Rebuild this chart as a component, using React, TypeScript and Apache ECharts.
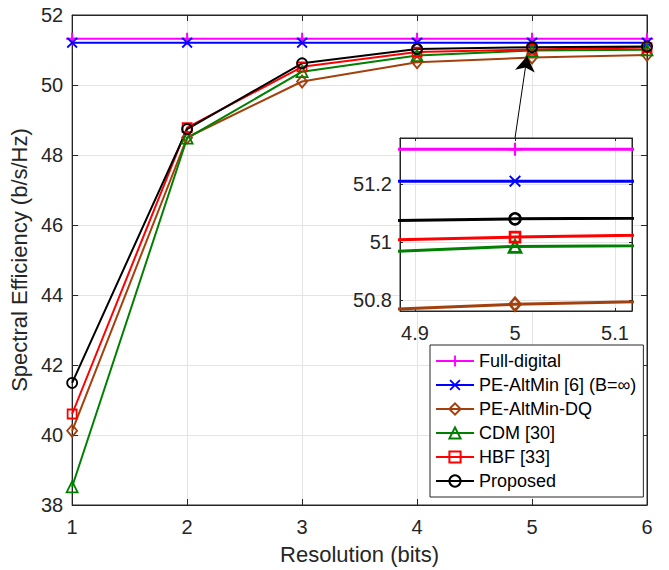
import React, { useEffect, useRef } from "react";
import * as echarts from "echarts";

const resolution = [1, 2, 3, 4, 5, 6];
const fullDigital = [51.32, 51.32, 51.32, 51.32, 51.32, 51.32];
const peAltMin = [51.21, 51.21, 51.21, 51.21, 51.21, 51.21];
const peAltMinDQ = [40.12, 48.5, 50.1, 50.65, 50.785, 50.86];
const cdm = [38.52, 48.48, 50.38, 50.84, 50.985, 51.005];
const hbf = [40.6, 48.78, 50.52, 50.94, 51.017, 51.07];
const proposed = [41.49, 48.74, 50.62, 51.03, 51.08, 51.1];

const seriesNames = [
  "Full-digital",
  "PE-AltMin [6] (B=∞)",
  "PE-AltMin-DQ",
  "CDM [30]",
  "HBF [33]",
  "Proposed",
];
const seriesColors = ["#ff00ff", "#0000ff", "#a3410e", "#008000", "#ff0000", "#000000"];

const mainXRange = [1, 6];
const mainXInterval = 1;
const mainYRange = [38, 52];
const mainYInterval = 2;

const insetXRange = [4.885, 5.117];
const insetYRange = [50.762, 51.359];
const insetXTicks = [4.9, 5, 5.1];
const insetYTicks = [50.8, 51, 51.2];

const arrowFrom = [4.852, 48.486];
const arrowTo = [4.957, 50.82];

const FONT = "Liberation Sans, Arial, Helvetica, sans-serif";
const AXIS_COLOR = "#262626";
const GRID_COLOR = "#e3e3e3";

const plusPath = "path://M5,0H7V5H12V7H7V12H5V7H0V5H5Z";
const xPath =
  "path://M1.4,0L6,4.6L10.6,0L12,1.4L7.4,6L12,10.6L10.6,12L6,7.4L1.4,12L0,10.6L4.6,6L0,1.4Z";

const seriesData = [fullDigital, peAltMin, peAltMinDQ, cdm, hbf, proposed];
const symbols = [plusPath, xPath, "diamond", "triangle", "rect", "circle"];
const hollow = [false, false, true, true, true, true];
const mainSizes: any[] = [12, 11, [10, 12], 11, 9, 10];
const insetSizes: any[] = [13, 12, [11, 13], 12, 10, 11];

function buildSeries(inset: boolean) {
  return seriesData.map((vals, i) => {
    const color = seriesColors[i];
    const s: any = {
      type: "line",
      name: seriesNames[i],
      data: resolution.map((x, j) => [x, vals[j]]),
      xAxisIndex: inset ? 2 : 0,
      yAxisIndex: inset ? 2 : 0,
      clip: true,
      symbol: symbols[i],
      symbolSize: inset ? insetSizes[i] : mainSizes[i],
      showAllSymbol: true,
      z: inset ? 12 : 2,
      lineStyle: { color, width: inset ? 3 : 2 },
      itemStyle: hollow[i]
        ? { color: "rgba(0,0,0,0)", borderColor: color, borderWidth: inset ? 2.6 : 1.8 }
        : { color, borderWidth: 0 },
      emphasis: { disabled: true },
    };
    if (!inset && i === 5) {
      s.markLine = {
        silent: true,
        z: 8,
        symbol: ["none", "arrow"],
        symbolSize: 15,
        lineStyle: { color: "#000", width: 1, type: "solid" },
        itemStyle: { color: "#000" },
        label: { show: false },
        emphasis: { disabled: true },
        data: [[{ coord: arrowFrom }, { coord: arrowTo }]],
      };
    }
    return s;
  });
}

const labelStyle = { color: AXIS_COLOR, fontFamily: FONT, fontSize: 20 };

export default function App() {
  const ref = useRef<HTMLDivElement>(null);
  useEffect(() => {
    if (!ref.current) return;
    const chart = echarts.init(ref.current, undefined, { renderer: "svg" });
    const mirrorX = (gridIndex: number, min: number, max: number, extra: any) => ({
      type: "value",
      gridIndex,
      position: "top",
      min,
      max,
      ...extra,
      axisLine: { show: true, onZero: false, lineStyle: { color: AXIS_COLOR, width: 1 } },
      axisLabel: { show: false },
      splitLine: { show: false },
    });
    const mirrorY = (gridIndex: number, min: number, max: number, extra: any) => ({
      type: "value",
      gridIndex,
      position: "right",
      min,
      max,
      ...extra,
      axisLine: { show: true, onZero: false, lineStyle: { color: AXIS_COLOR, width: 1 } },
      axisLabel: { show: false },
      splitLine: { show: false },
    });
    const option: any = {
      animation: false,
      backgroundColor: "#fff",
      textStyle: { fontFamily: FONT },
      grid: [
        {
          left: 72,
          top: 15,
          width: 575,
          height: 490,
          show: true,
          backgroundColor: "#fff",
          borderColor: AXIS_COLOR,
          borderWidth: 1,
          z: 0,
        },
        {
          left: 400,
          top: 138,
          width: 232,
          height: 173,
          show: true,
          backgroundColor: "#fff",
          borderColor: AXIS_COLOR,
          borderWidth: 1,
          z: 10,
        },
      ],
      xAxis: [
        {
          type: "value",
          gridIndex: 0,
          min: mainXRange[0],
          max: mainXRange[1],
          interval: mainXInterval,
          name: "Resolution (bits)",
          nameLocation: "middle",
          nameGap: 38,
          nameTextStyle: { color: AXIS_COLOR, fontFamily: FONT, fontSize: 22 },
          axisLine: { show: true, onZero: false, lineStyle: { color: AXIS_COLOR, width: 1 } },
          axisTick: { show: true, inside: true, length: 6, lineStyle: { color: AXIS_COLOR } },
          axisLabel: { ...labelStyle, margin: 12 },
          splitLine: { show: true, showMinLine: false, showMaxLine: false, lineStyle: { color: GRID_COLOR, width: 1 } },
        },
        mirrorX(0, mainXRange[0], mainXRange[1], {
          interval: mainXInterval,
          axisTick: { show: true, inside: true, length: 6, lineStyle: { color: AXIS_COLOR } },
        }),
        {
          type: "value",
          gridIndex: 1,
          min: insetXRange[0],
          max: insetXRange[1],
          z: 11,
          axisLine: { show: true, onZero: false, lineStyle: { color: AXIS_COLOR, width: 1 } },
          axisTick: {
            show: true,
            inside: true,
            length: 3,
            customValues: insetXTicks,
            lineStyle: { color: AXIS_COLOR },
          },
          axisLabel: { ...labelStyle, margin: 12, customValues: insetXTicks },
          splitLine: { show: true, lineStyle: { color: GRID_COLOR, width: 1 } },
        },
        mirrorX(1, insetXRange[0], insetXRange[1], {
          z: 11,
          axisTick: {
            show: true,
            inside: true,
            length: 3,
            customValues: insetXTicks,
            lineStyle: { color: AXIS_COLOR },
          },
        }),
      ],
      yAxis: [
        {
          type: "value",
          gridIndex: 0,
          min: mainYRange[0],
          max: mainYRange[1],
          interval: mainYInterval,
          name: "Spectral Efficiency (b/s/Hz)",
          nameLocation: "middle",
          nameGap: 37,
          nameTextStyle: { color: AXIS_COLOR, fontFamily: FONT, fontSize: 22 },
          axisLine: { show: true, onZero: false, lineStyle: { color: AXIS_COLOR, width: 1 } },
          axisTick: { show: true, inside: true, length: 6, lineStyle: { color: AXIS_COLOR } },
          axisLabel: { ...labelStyle, margin: 9 },
          splitLine: { show: true, showMinLine: false, showMaxLine: false, lineStyle: { color: GRID_COLOR, width: 1 } },
        },
        mirrorY(0, mainYRange[0], mainYRange[1], {
          interval: mainYInterval,
          axisTick: { show: true, inside: true, length: 6, lineStyle: { color: AXIS_COLOR } },
        }),
        {
          type: "value",
          gridIndex: 1,
          min: insetYRange[0],
          max: insetYRange[1],
          z: 11,
          axisLine: { show: true, onZero: false, lineStyle: { color: AXIS_COLOR, width: 1 } },
          axisTick: {
            show: true,
            inside: true,
            length: 3,
            customValues: insetYTicks,
            lineStyle: { color: AXIS_COLOR },
          },
          axisLabel: { ...labelStyle, margin: 8, customValues: insetYTicks },
          splitLine: { show: true, lineStyle: { color: GRID_COLOR, width: 1 } },
        },
        mirrorY(1, insetYRange[0], insetYRange[1], {
          z: 11,
          axisTick: {
            show: true,
            inside: true,
            length: 3,
            customValues: insetYTicks,
            lineStyle: { color: AXIS_COLOR },
          },
        }),
      ],
      legend: {
        show: true,
        data: seriesNames,
        orient: "vertical",
        left: 430,
        top: 345,
        z: 20,
        padding: [7, 7, 7, 5],
        itemWidth: 38,
        itemHeight: 14,
        itemGap: 6,
        backgroundColor: "#fff",
        borderColor: AXIS_COLOR,
        borderWidth: 1,
        borderRadius: 0,
        selectedMode: false,
        textStyle: { color: "#000", fontFamily: FONT, fontSize: 18, lineHeight: 18 },
      },
      series: [...buildSeries(false), ...buildSeries(true)],
    };
    chart.setOption(option);
    return () => chart.dispose();
  }, []);
  return (
    <div
      ref={ref}
      style={{ position: "fixed", left: 0, top: 0, width: 669, height: 570 }}
    />
  );
}
